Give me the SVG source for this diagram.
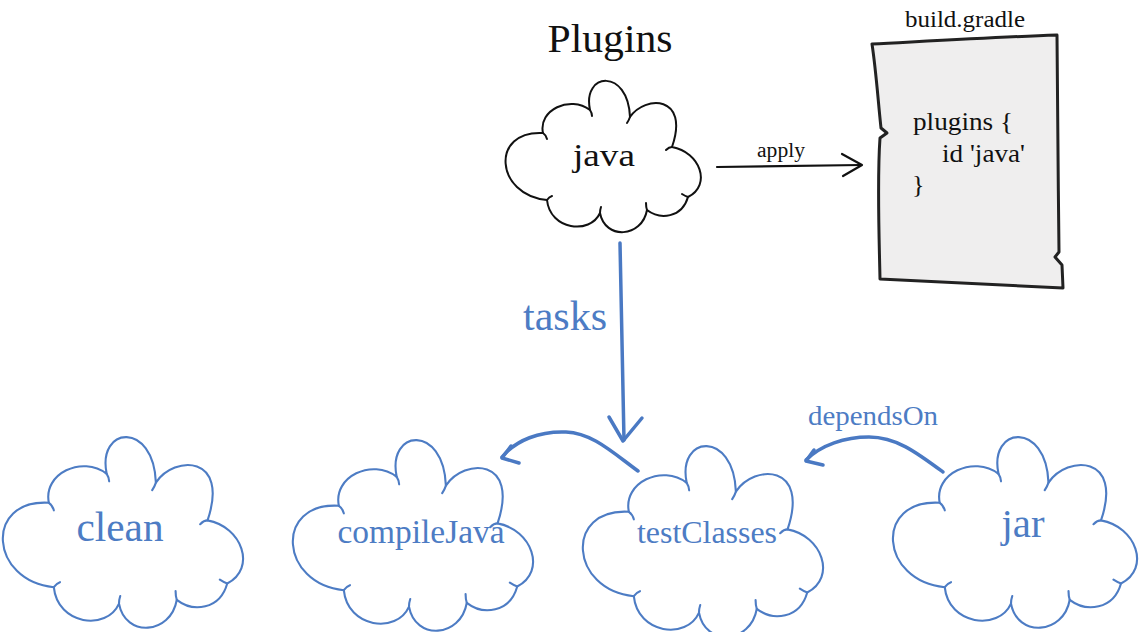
<svg xmlns="http://www.w3.org/2000/svg" xmlns:xlink="http://www.w3.org/1999/xlink" width="1143" height="632" viewBox="0 0 1143 632">
<style>
  .serif { font-family: "Liberation Serif", "DejaVu Serif", serif; }
  .blk { fill: #111; }
  .blu { fill: #4d7cc4; }
  .cloudBlack { fill: #fff; stroke: #111; stroke-width: 2; stroke-linejoin: round; }
  .cloudBlue { fill: #fff; stroke: #4d7cc4; stroke-width: 1.7; stroke-linejoin: round; }
  .hookBlack { fill: none; stroke: #111; stroke-width: 2; stroke-linecap: round; }
  .hookBlue { fill: none; stroke: #4d7cc4; stroke-width: 1.7; stroke-linecap: round; }
  .lnBlack { fill: none; stroke: #111; stroke-width: 2.2; stroke-linecap: round; stroke-linejoin: round; }
  .lnBlue { fill: none; stroke: #4a79c3; stroke-width: 3.5; stroke-linecap: round; stroke-linejoin: round; }
</style>
<defs>
  <path id="cloud" d="M43,53 C38,30 70,15 90,30 C82,-8 128,-12 130,37 C145,15 190,15 172,67 C200,72 212,105 188,117 C182,138 160,140 147,130 C142,158 105,160 100,133 C90,155 50,150 47,120 C-5,115 -10,50 43,53 Z"/>
  <path id="hooks" d="M43,53 Q46,55 47,59 M90,30 Q92,33 92,36 M130,37 Q129,40 127,43 M172,67 Q169,67 166,70 M188,117 Q185,116 182,114 M147,130 Q146,127 146,123 M100,133 Q100,130 101,127 M47,120 Q49,117 52,116"/>
</defs>
<rect width="1143" height="632" fill="#ffffff"/>

<g id="title">
  <text class="serif blk" x="610" y="52" font-size="40" text-anchor="middle" textLength="125" lengthAdjust="spacingAndGlyphs">Plugins</text>
</g>

<g id="node-java">
  <g transform="translate(500,80)">
    <use xlink:href="#cloud" href="#cloud" class="cloudBlack"/>
    <use xlink:href="#hooks" href="#hooks" class="hookBlack"/>
  </g>
  <text class="serif blk" x="604" y="166" font-size="32" text-anchor="middle" textLength="62" lengthAdjust="spacingAndGlyphs">java</text>
</g>

<g id="node-build-gradle">
  <text class="serif blk" x="965" y="27" font-size="24" text-anchor="middle" textLength="120" lengthAdjust="spacingAndGlyphs">build.gradle</text>
  <path d="M872,44 C930,41 1000,37 1057,35 C1058,110 1058,180 1059,252 L1055,257 L1062,265 L1063,288 C1000,285 940,282 880,279 C879,230 877,180 880,138 L887,133 L881,128 C878,100 876,70 872,44 Z" fill="#efeeee" stroke="#222" stroke-width="3" stroke-linejoin="round"/>
  <text class="serif blk" x="913" y="130" font-size="26" textLength="100" lengthAdjust="spacingAndGlyphs">plugins {</text>
  <text class="serif blk" x="942" y="162" font-size="26" textLength="83" lengthAdjust="spacingAndGlyphs">id 'java'</text>
  <text class="serif blk" x="912" y="193" font-size="26">}</text>
</g>

<g id="node-clean">
  <g transform="translate(-4,436) scale(1.23,1.26)">
    <use xlink:href="#cloud" href="#cloud" class="cloudBlue"/>
    <use xlink:href="#hooks" href="#hooks" class="hookBlue"/>
  </g>
  <text class="serif blu" x="120" y="541" font-size="42" text-anchor="middle" textLength="87" lengthAdjust="spacingAndGlyphs">clean</text>
</g>

<g id="node-compileJava">
  <g transform="translate(286,439) scale(1.23,1.26)">
    <use xlink:href="#cloud" href="#cloud" class="cloudBlue"/>
    <use xlink:href="#hooks" href="#hooks" class="hookBlue"/>
  </g>
  <text class="serif blu" x="421" y="543" font-size="33" text-anchor="middle" textLength="167" lengthAdjust="spacingAndGlyphs">compileJava</text>
</g>

<g id="node-testClasses">
  <g transform="translate(576,445) scale(1.23,1.26)">
    <use xlink:href="#cloud" href="#cloud" class="cloudBlue"/>
    <use xlink:href="#hooks" href="#hooks" class="hookBlue"/>
  </g>
  <text class="serif blu" x="707" y="543" font-size="32" text-anchor="middle" textLength="140" lengthAdjust="spacingAndGlyphs">testClasses</text>
</g>

<g id="node-jar">
  <g transform="translate(886,436) scale(1.25,1.26)">
    <use xlink:href="#cloud" href="#cloud" class="cloudBlue"/>
    <use xlink:href="#hooks" href="#hooks" class="hookBlue"/>
  </g>
  <text class="serif blu" x="1023" y="537" font-size="40" text-anchor="middle" textLength="43" lengthAdjust="spacingAndGlyphs">jar</text>
</g>

<g id="connectors">
  <g id="edge-apply">
    <path class="lnBlack" d="M717,167 L861,165"/>
    <path class="lnBlack" d="M842,154 L862,165 L843,176"/>
    <text class="serif blk" x="781" y="157" font-size="20" text-anchor="middle" textLength="48" lengthAdjust="spacingAndGlyphs">apply</text>
  </g>
  <g id="edge-tasks">
    <path class="lnBlue" d="M620,243 L624,440"/>
    <path class="lnBlue" d="M609,417 L623,441 L642,418"/>
    <text class="serif blu" x="565" y="330" font-size="42" text-anchor="middle" textLength="84" lengthAdjust="spacingAndGlyphs">tasks</text>
  </g>
  <g id="edge-testClasses-compileJava">
    <path class="lnBlue" d="M638,471 C612,452 592,433 566,432 C540,431 516,440 502,457"/>
    <path class="lnBlue" d="M511,446 L502,458 L519,463"/>
  </g>
  <g id="edge-jar-testClasses">
    <path class="lnBlue" d="M943,472 C916,452 896,437 869,437 C845,437 821,445 806,460"/>
    <path class="lnBlue" d="M814,450 L806,461 L823,465"/>
    <text class="serif blu" x="873" y="425" font-size="28" text-anchor="middle" textLength="130" lengthAdjust="spacingAndGlyphs">dependsOn</text>
  </g>
</g>
</svg>
